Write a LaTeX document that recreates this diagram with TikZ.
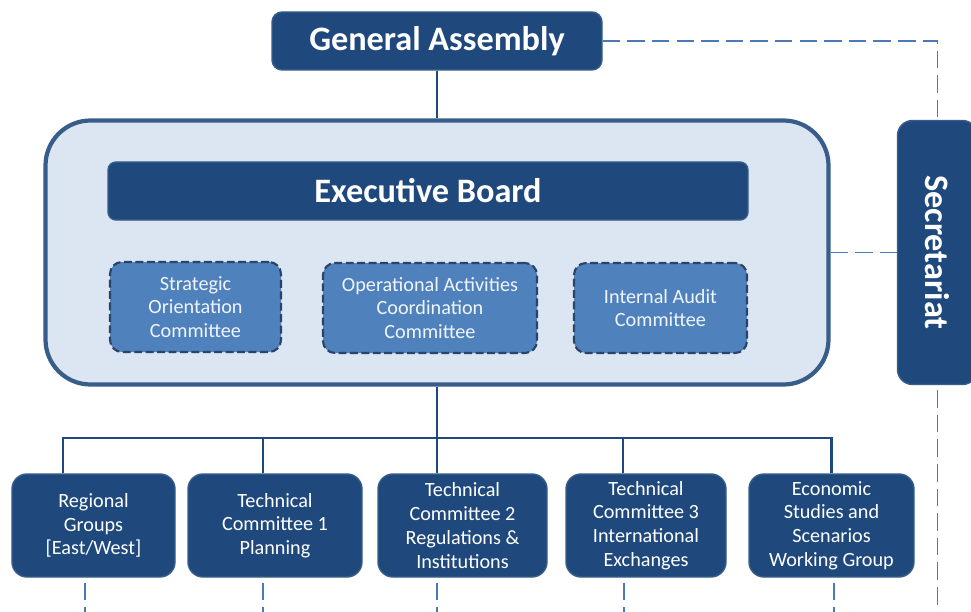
\documentclass[tikz,border=0pt]{standalone}
\usepackage{fontspec}
\setmainfont{Carlito}
\definecolor{navy}{RGB}{31,73,125}
\definecolor{edgeblue}{RGB}{56,93,138}
\definecolor{paleblue}{RGB}{220,230,242}
\definecolor{midblue}{RGB}{79,129,189}
\definecolor{dashblue}{RGB}{74,122,186}
\definecolor{cmtedge}{RGB}{40,68,104}
\tikzset{
	darkbox/.style={draw=edgeblue, line width=.8pt, fill=navy, text=white, rounded corners=.3cm, inner sep=0pt, align=center},
	titlefont/.style={font=\fontsize{19.5}{22}\selectfont\bfseries},
	smallfont/.style={font=\fontsize{11.5}{13.5}\selectfont},
	cmtbox/.style={draw=cmtedge, line width=1.2pt, dash pattern=on 4.5pt off 2pt, fill=midblue, text=white!92!midblue, rounded corners=.24cm, inner sep=0pt, align=center, minimum height=1.8cm},
	link/.style={draw=navy, line width=1.6pt},
	dashlink/.style={draw=dashblue, line width=1.1pt, dash pattern=on 10pt off 4pt}
}
\begin{document}
\begin{tikzpicture}
	\useasboundingbox (0,0) rectangle (19.42,-12.24);

	% top
	\node[darkbox, titlefont, rounded corners=.2cm, minimum width=6.6cm, minimum height=1.16cm] (ga) at (8.74,-0.82) {General Assembly};

	% board frame
	\node[draw=edgeblue, line width=2.4pt, fill=paleblue, rounded corners=.9cm, minimum width=15.66cm, minimum height=5.28cm] (frame) at (8.74,-5.05) {};
	\node[darkbox, titlefont, rounded corners=.16cm, minimum width=12.8cm, minimum height=1.16cm] (board) at (8.56,-3.82) {Executive Board};
		\node[cmtbox, smallfont, minimum width=3.42cm] (strat) at (3.91,-6.14) {Strategic\\Orientation\\Committee};
		\node[cmtbox, smallfont, minimum width=4.28cm] (oper) at (8.6,-6.16) {Operational Activities\\Coordination\\Committee};
		\node[cmtbox, smallfont, minimum width=3.46cm] (audit) at (13.21,-6.16) {Internal Audit\\Committee};

	\node[darkbox, titlefont, minimum width=1.6cm, minimum height=5.28cm] (sec) at (18.75,-5.05) {\rotatebox{-90}{Secretariat}};

	% bottom row
	\node[darkbox, smallfont, minimum width=3.26cm, minimum height=2.06cm] (regio) at (1.87,-10.51) {Regional\\Groups\\{[East/West]}};
	\node[darkbox, smallfont, minimum width=3.48cm, minimum height=2.06cm] (tc1) at (5.5,-10.51) {Technical\\Committee 1\\Planning};
	\node[darkbox, smallfont, minimum width=3.38cm, minimum height=2.06cm] (tc2) at (9.25,-10.51) {Technical\\Committee 2\\Regulations \&\\Institutions};
	\node[darkbox, smallfont, minimum width=3.2cm, minimum height=2.06cm] (tc3) at (12.92,-10.51) {Technical\\Committee 3\\International\\Exchanges};
	\node[darkbox, smallfont, minimum width=3.3cm, minimum height=2.06cm] (econ) at (16.63,-10.51) {Economic\\Studies and\\Scenarios\\Working Group};

	% solid links
	\coordinate (bus) at (8.74,-8.76);
	\draw[link] (ga) -- (frame);
	\draw[link] (frame.south) -- (bus);
	\draw[link] ([xshift=-.61cm]regio.north) |- (bus) -| (econ.north);
	\draw[link] ([xshift=-.24cm]tc1.north) -- ([xshift=-.24cm]tc1.north |- bus);
	\draw[link] ([xshift=-.51cm]tc2.north) -- ([xshift=-.51cm]tc2.north |- bus);
	\draw[link] ([xshift=-.46cm]tc3.north) -- ([xshift=-.46cm]tc3.north |- bus);

	% dashed links
	\draw[dashlink] (ga) -| (sec);
	\draw[dashlink] (frame) -- (sec);
	\draw[dashlink] ([yshift=-.1cm]sec.south) -- ++(0,-4.8);
	\draw[dashlink] ([xshift=-.17cm, yshift=-.1cm]regio.south) -- ++(0,-.8);
	\draw[dashlink] ([xshift=-.24cm, yshift=-.1cm]tc1.south) -- ++(0,-.8);
	\draw[dashlink] ([xshift=-.51cm, yshift=-.1cm]tc2.south) -- ++(0,-.8);
	\draw[dashlink] ([xshift=-.44cm, yshift=-.1cm]tc3.south) -- ++(0,-.8);
	\draw[dashlink] ([xshift=.05cm, yshift=-.1cm]econ.south) -- ++(0,-.8);
\end{tikzpicture}
\end{document}
